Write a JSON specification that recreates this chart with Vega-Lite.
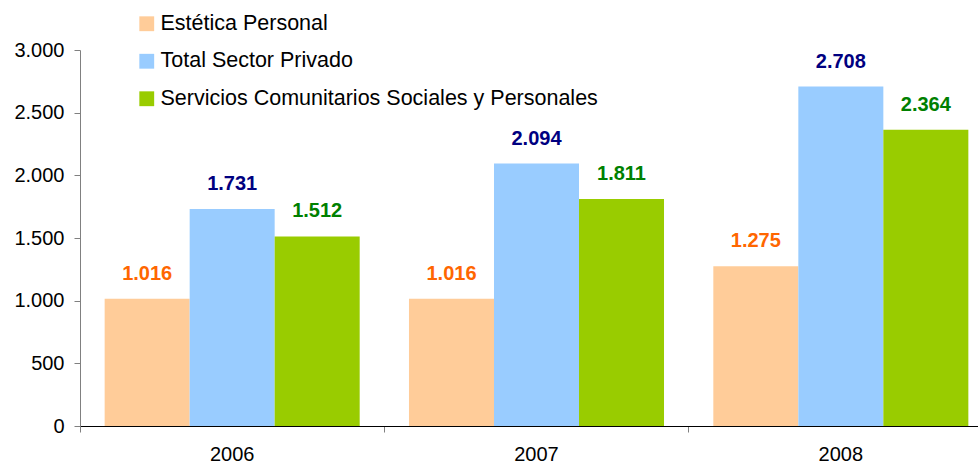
{
  "$schema": "https://vega.github.io/schema/vega-lite/v6.json",
  "width": 913,
  "height": 376,
  "autosize": "none",
  "padding": {"left": 80, "top": 50, "right": 0, "bottom": 39},
  "background": "white",
  "config": {
    "locale": {"number": {"decimal": ",", "thousands": ".", "grouping": [3], "currency": ["", "€"]}},
    "font": "Liberation Sans",
    "view": {"stroke": null}
  },
  "data": {
    "values": [
      {"year": "2006", "serie": "Estética Personal", "value": 1016},
      {"year": "2006", "serie": "Total Sector Privado", "value": 1731},
      {"year": "2006", "serie": "Servicios Comunitarios Sociales y Personales", "value": 1512},
      {"year": "2007", "serie": "Estética Personal", "value": 1016},
      {"year": "2007", "serie": "Total Sector Privado", "value": 2094},
      {"year": "2007", "serie": "Servicios Comunitarios Sociales y Personales", "value": 1811},
      {"year": "2008", "serie": "Estética Personal", "value": 1275},
      {"year": "2008", "serie": "Total Sector Privado", "value": 2708},
      {"year": "2008", "serie": "Servicios Comunitarios Sociales y Personales", "value": 2364}
    ]
  },
  "encoding": {
    "x": {
      "field": "year", "type": "nominal",
      "scale": {"paddingInner": 0, "paddingOuter": 0},
      "axis": {
        "title": null, "labelAngle": 0, "labelFontSize": 20, "labelColor": "black",
        "labelPadding": 12, "bandPosition": 0, "tickSize": 6, "tickColor": "#808080",
        "domainColor": "black", "domainWidth": 1
      }
    },
    "xOffset": {
      "field": "serie", "type": "nominal",
      "sort": ["Estética Personal", "Total Sector Privado", "Servicios Comunitarios Sociales y Personales"],
      "scale": {"paddingOuter": 0.29, "paddingInner": 0}
    },
    "y": {
      "field": "value", "type": "quantitative",
      "scale": {"domain": [0, 3000], "nice": false},
      "axis": {
        "title": null, "values": [0, 500, 1000, 1500, 2000, 2500, 3000], "format": ",.0f",
        "labelFontSize": 20, "labelColor": "black", "grid": false, "tickSize": 6,
        "tickColor": "#808080", "domainColor": "#808080", "labelPadding": 10
      }
    }
  },
  "layer": [
    {
      "mark": {"type": "bar"},
      "encoding": {
        "color": {
          "field": "serie", "type": "nominal",
          "sort": ["Estética Personal", "Total Sector Privado", "Servicios Comunitarios Sociales y Personales"],
          "scale": {"range": ["#FFCC99", "#99CCFF", "#99CC00"]},
          "legend": {
            "title": null, "orient": "none", "legendX": 56, "legendY": -37,
            "symbolType": "square", "symbolSize": 220, "symbolStrokeWidth": 0,
            "labelFontSize": 21.5, "labelColor": "black", "rowPadding": 14.5, "labelOffset": 3,
            "labelLimit": 700
          }
        }
      }
    },
    {
      "mark": {"type": "text", "fontSize": 20, "fontWeight": "bold", "baseline": "alphabetic", "dy": -19},
      "encoding": {
        "text": {"field": "value", "type": "quantitative", "format": ",.0f"},
        "color": {
          "field": "serie", "type": "nominal",
          "sort": ["Estética Personal", "Total Sector Privado", "Servicios Comunitarios Sociales y Personales"],
          "scale": {"range": ["#FF6600", "#000080", "#008000"]},
          "legend": null
        }
      }
    }
  ],
  "resolve": {"scale": {"color": "independent"}}
}
